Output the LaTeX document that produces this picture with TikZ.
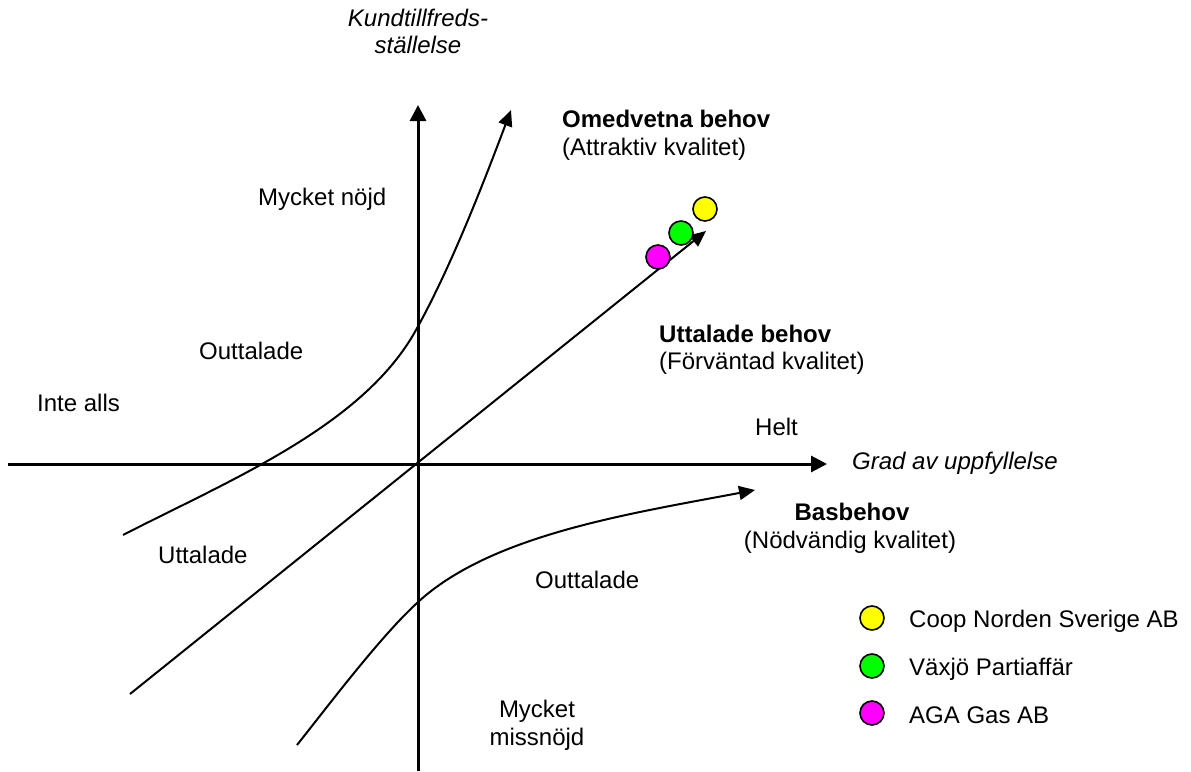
\documentclass[tikz,border=0pt]{standalone}
\usepackage{fontspec}
\setmainfont{Liberation Sans}
\usetikzlibrary{arrows.meta}
\definecolor{dotyellow}{RGB}{255,255,0}
\definecolor{dotgreen}{RGB}{0,255,0}
\definecolor{dotmagenta}{RGB}{255,0,255}
\begin{document}
\begin{tikzpicture}[x=1pt,y=-1pt,
  lbl/.style={inner sep=0pt,anchor=base west,font=\fontsize{24}{29}\selectfont},
  axis/.style={line width=3pt,-{Triangle[length=16pt,width=16pt]}},
  curve/.style={line width=2pt,-{Triangle[length=16pt,width=14pt]}},
  dot/.style={circle,draw,line width=1.6pt,minimum size=24pt,inner sep=0pt}]
\useasboundingbox (0,0) rectangle (1191,771);

% axes
\coordinate (xs) at (8,464);
\coordinate (xe) at (827,464);
\coordinate (ys) at (418,771);
\coordinate (ye) at (418,105);
\draw[axis] (xs) -- (xe);
\draw[axis] (ys) -- (ye);

% attractive quality
\coordinate (as) at (123,535);
\coordinate (am) at (416,330);
\coordinate (ae) at (511,110);
\draw[curve] (as) .. controls (230,480) and (363,426) .. (am)
                  .. controls (450,269) and (482,187) .. (ae);
% expected quality
\coordinate (ds) at (130,694);
\coordinate (de) at (706,231);
\draw[curve] (ds) -- (de);
% basic quality
\coordinate (bs) at (297,745);
\coordinate (bm) at (417,603);
\coordinate (be) at (755,490);
\draw[curve] (bs) .. controls (328,706) and (380,637) .. (bm)
                  .. controls (490,535) and (628,514) .. (be);

% company markers
\node[dot,fill=dotmagenta] (m1) at (658,257) {};
\node[dot,fill=dotgreen] (g1) at (681,233) {};
\node[dot,fill=dotyellow] (y1) at (705,209) {};

% labels
\node[lbl,anchor=base,font=\fontsize{24}{29}\selectfont\itshape] (k1) at (418,26) {Kundtillfreds-};
\node[lbl,anchor=base,font=\fontsize{24}{29}\selectfont\itshape] (k2) at (418,53) {ställelse};
\node[lbl,font=\fontsize{24}{29}\selectfont\bfseries] (om1) at (562,127) {Omedvetna behov};
\node[lbl] (om2) at (562,155) {(Attraktiv kvalitet)};
\node[lbl] (mn) at (258,205) {Mycket nöjd};
\node[lbl] (ot1) at (199,359) {Outtalade};
\node[lbl] (ia) at (37,411) {Inte alls};
\node[lbl,font=\fontsize{24}{29}\selectfont\bfseries] (ut1) at (659,342) {Uttalade behov};
\node[lbl] (ut2) at (659,369) {(Förväntad kvalitet)};
\node[lbl] (he) at (755,435) {Helt};
\node[lbl,font=\fontsize{24}{29}\selectfont\itshape] (gr) at (852,469) {Grad av uppfyllelse};
\node[lbl,anchor=base,font=\fontsize{24}{29}\selectfont\bfseries] (bb1) at (852,520) {Basbehov};
\node[lbl,anchor=base] (bb2) at (850,548) {(Nödvändig kvalitet)};
\node[lbl] (ut3) at (158,563) {Uttalade};
\node[lbl] (ot2) at (535,588) {Outtalade};
\node[lbl,anchor=base] (mm1) at (537,717) {Mycket};
\node[lbl,anchor=base] (mm2) at (537,745) {missnöjd};

% legend
\node[dot,fill=dotyellow] (ly) at (872,618) {};
\node[dot,fill=dotgreen] (lg) at (872,666) {};
\node[dot,fill=dotmagenta] (lm) at (872,713) {};
\node[lbl] (ty) at (909,627) {Coop Norden Sverige AB};
\node[lbl] (tg) at (909,675) {Växjö Partiaffär};
\node[lbl] (tm) at (909,723) {AGA Gas AB};
\end{tikzpicture}
\end{document}
